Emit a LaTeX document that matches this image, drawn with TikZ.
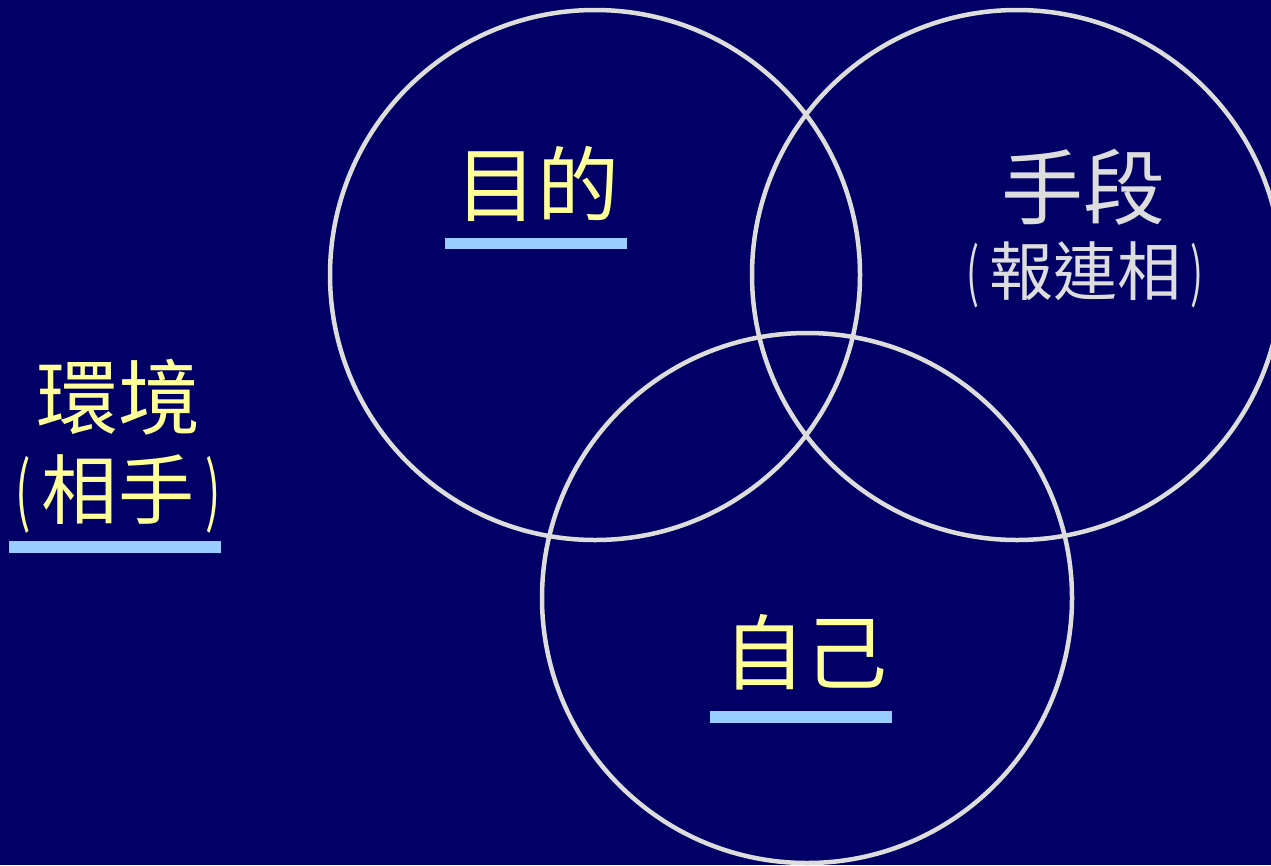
\documentclass[tikz,border=0pt]{standalone}
\usepackage{fontspec}
\newfontfamily\cjk{Noto Sans CJK TC}
\newfontfamily\parfont[FakeStretch=0.6]{Noto Sans CJK TC}
\newcommand{\lpar}{{\parfont(}\hspace{0.15em}}
\newcommand{\rpar}{\hspace{0.15em}{\parfont)}}
\definecolor{bg}{HTML}{000066}
\definecolor{ring}{HTML}{DDDDDD}
\definecolor{ylw}{HTML}{FFFF99}
\definecolor{gry}{HTML}{DDDDDD}
\definecolor{ubar}{HTML}{99CCFF}
\tikzset{
  ringc/.style={draw=ring, line width=4.5pt},
  bigtxt/.style={font=\cjk\fontsize{82}{82}\selectfont, inner sep=0pt, anchor=center},
  subtxt/.style={font=\cjk\fontsize{64}{64}\selectfont, inner sep=0pt, anchor=center},
  ubarline/.style={fill=ubar, draw=none}
}
\begin{document}
\begin{tikzpicture}[x=1pt,y=-1pt]
\useasboundingbox (0,0) rectangle (1271,865);
\clip (0,0) rectangle (1271,865);
\fill[bg] (0,0) rectangle (1271,865);
\draw[ringc] (595,275) circle[radius=265];
\draw[ringc] (1017,275) circle[radius=265];
\draw[ringc] (807,598) circle[radius=265];
\node[bigtxt, text=ylw] (mokuteki) at (537,184) {目的};
\fill[ubarline] (445,238) rectangle (627,249);
\node[bigtxt, text=gry] (shudan) at (1083,187) {手段};
\node[subtxt, text=gry] (hourensou) at (1085,275) {\lpar 報連相\rpar};
\node[bigtxt, text=ylw] (kankyou) at (118,397) {環境};
\node[font=\cjk\fontsize{76}{76}\selectfont, inner sep=0pt, text=ylw] (aite) at (118,494) {\lpar 相手\rpar};
\fill[ubarline] (9,541) rectangle (221,553);
\node[bigtxt, text=ylw] (jiko) at (805,652) {自己};
\fill[ubarline] (710,711) rectangle (892,723);
\end{tikzpicture}
\end{document}
